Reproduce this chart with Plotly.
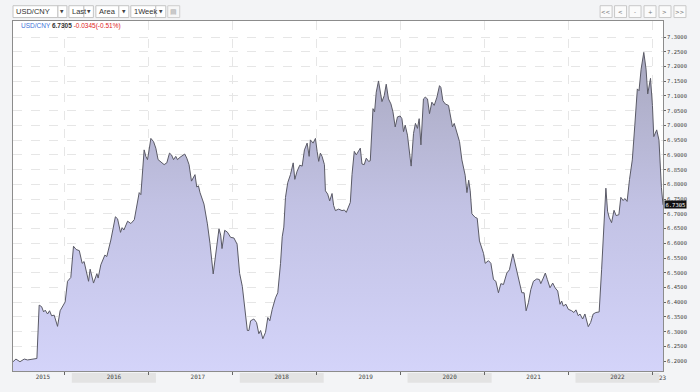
import pandas as pd
import plotly.graph_objects as go

# ---------------- data ----------------
t_year = [2015.382, 2015.417, 2015.465, 2015.516, 2015.556, 2015.667, 2015.694, 2015.723, 2015.747, 2015.766,
          2015.794, 2015.818, 2015.842, 2015.873, 2015.913, 2015.944, 2016.004, 2016.032, 2016.071, 2016.103,
          2016.134, 2016.172, 2016.206, 2016.229, 2016.282, 2016.301, 2016.341, 2016.381, 2016.396, 2016.428,
          2016.476, 2016.499, 2016.547, 2016.601, 2016.627, 2016.662, 2016.681, 2016.702, 2016.746, 2016.785,
          2016.826, 2016.856, 2016.884, 2016.904, 2016.943, 2016.963, 2016.983, 2017.002, 2017.023, 2017.055,
          2017.082, 2017.109, 2017.142, 2017.181, 2017.213, 2017.245, 2017.269, 2017.293, 2017.320, 2017.340,
          2017.371, 2017.400, 2017.427, 2017.451, 2017.478, 2017.507, 2017.530, 2017.549, 2017.570, 2017.590,
          2017.609, 2017.656, 2017.697, 2017.728, 2017.766, 2017.796, 2017.835, 2017.855, 2017.871, 2017.903,
          2017.935, 2017.974, 2018.013, 2018.051, 2018.081, 2018.113, 2018.140, 2018.173, 2018.192, 2018.212,
          2018.251, 2018.283, 2018.310, 2018.331, 2018.358, 2018.390, 2018.417, 2018.441, 2018.470, 2018.509,
          2018.536, 2018.569, 2018.589, 2018.608, 2018.628, 2018.655, 2018.687, 2018.720, 2018.739, 2018.767,
          2018.798, 2018.827, 2018.854, 2018.886, 2018.910, 2018.925, 2018.957, 2018.985, 2019.005, 2019.024,
          2019.044, 2019.064, 2019.092, 2019.104, 2019.131, 2019.155, 2019.183, 2019.202, 2019.223, 2019.262,
          2019.302, 2019.330, 2019.353, 2019.381, 2019.401, 2019.421, 2019.448, 2019.472, 2019.500, 2019.520,
          2019.540, 2019.567, 2019.591, 2019.618, 2019.639, 2019.671, 2019.690, 2019.710, 2019.737, 2019.758,
          2019.778, 2019.805, 2019.829, 2019.856, 2019.885, 2019.909, 2019.936, 2019.963, 2019.995, 2020.016,
          2020.035, 2020.055, 2020.082, 2020.114, 2020.126, 2020.154, 2020.177, 2020.201, 2020.221, 2020.242,
          2020.272, 2020.293, 2020.320, 2020.344, 2020.372, 2020.400, 2020.432, 2020.463, 2020.479, 2020.503,
          2020.531, 2020.570, 2020.598, 2020.617, 2020.638, 2020.670, 2020.701, 2020.729, 2020.768, 2020.789,
          2020.810, 2020.828, 2020.848, 2020.887, 2020.911, 2020.938, 2020.967, 2020.986, 2021.006, 2021.045,
          2021.074, 2021.105, 2021.133, 2021.164, 2021.193, 2021.224, 2021.264, 2021.295, 2021.336, 2021.363,
          2021.390, 2021.422, 2021.443, 2021.470, 2021.494, 2021.521, 2021.550, 2021.581, 2021.621, 2021.652,
          2021.669, 2021.699, 2021.723, 2021.747, 2021.779, 2021.811, 2021.839, 2021.871, 2021.898, 2021.918,
          2021.937, 2021.969, 2021.997, 2022.037, 2022.064, 2022.088, 2022.116, 2022.136, 2022.168, 2022.195,
          2022.235, 2022.263, 2022.294, 2022.326, 2022.365, 2022.394, 2022.421, 2022.445, 2022.465, 2022.484,
          2022.513, 2022.542, 2022.567, 2022.600, 2022.623, 2022.651, 2022.671, 2022.698, 2022.727, 2022.760,
          2022.790, 2022.820, 2022.840, 2022.865, 2022.897, 2022.924, 2022.944, 2022.977, 2023.000, 2023.016,
          2023.051, 2023.078, 2023.107, 2023.126]

usd_cny = [6.198, 6.207, 6.198, 6.207, 6.204, 6.209, 6.390, 6.385, 6.367, 6.373,
           6.360, 6.371, 6.354, 6.356, 6.318, 6.371, 6.401, 6.471, 6.484, 6.590,
           6.579, 6.575, 6.532, 6.538, 6.471, 6.512, 6.465, 6.497, 6.482, 6.527,
           6.560, 6.555, 6.611, 6.690, 6.683, 6.637, 6.653, 6.645, 6.675, 6.667,
           6.680, 6.732, 6.772, 6.765, 6.917, 6.895, 6.884, 6.917, 6.956, 6.945,
           6.923, 6.884, 6.876, 6.867, 6.873, 6.906, 6.900, 6.884, 6.895, 6.884,
           6.892, 6.898, 6.903, 6.889, 6.867, 6.811, 6.822, 6.833, 6.791, 6.795,
           6.772, 6.733, 6.666, 6.599, 6.496, 6.571, 6.649, 6.628, 6.582, 6.644,
           6.638, 6.620, 6.618, 6.597, 6.498, 6.454, 6.376, 6.304, 6.304, 6.337,
           6.343, 6.331, 6.293, 6.304, 6.276, 6.298, 6.348, 6.337, 6.376, 6.415,
           6.432, 6.532, 6.622, 6.655, 6.756, 6.806, 6.833, 6.873, 6.817, 6.845,
           6.865, 6.862, 6.917, 6.940, 6.895, 6.951, 6.940, 6.956, 6.912, 6.878,
           6.906, 6.895, 6.867, 6.778, 6.767, 6.744, 6.769, 6.728, 6.711, 6.716,
           6.711, 6.713, 6.705, 6.722, 6.739, 6.833, 6.912, 6.900, 6.912, 6.923,
           6.869, 6.867, 6.889, 6.878, 6.880, 7.057, 7.046, 7.113, 7.151, 7.118,
           7.081, 7.101, 7.140, 7.090, 7.073, 7.046, 6.995, 7.029, 7.032, 7.023,
           6.979, 7.001, 6.967, 6.889, 6.862, 6.973, 7.007, 6.990, 7.023, 6.934,
           7.090, 7.096, 7.090, 7.040, 7.079, 7.068, 7.096, 7.135, 7.129, 7.084,
           7.073, 7.068, 7.018, 6.995, 7.007, 6.973, 6.945, 6.883, 6.831, 6.772,
           6.814, 6.778, 6.700, 6.688, 6.685, 6.608, 6.577, 6.566, 6.532, 6.541,
           6.532, 6.477, 6.471, 6.432, 6.463, 6.460, 6.499, 6.510, 6.564, 6.532,
           6.493, 6.460, 6.432, 6.432, 6.371, 6.398, 6.443, 6.471, 6.479, 6.477,
           6.463, 6.482, 6.499, 6.477, 6.449, 6.465, 6.449, 6.438, 6.393, 6.404,
           6.387, 6.393, 6.376, 6.371, 6.365, 6.374, 6.354, 6.360, 6.343, 6.360,
           6.317, 6.331, 6.360, 6.365, 6.367, 6.510, 6.666, 6.787, 6.709, 6.688,
           6.670, 6.712, 6.694, 6.697, 6.756, 6.745, 6.752, 6.742, 6.817, 6.883,
           7.001, 7.124, 7.118, 7.191, 7.248, 7.191, 7.107, 7.160, 7.068, 6.962,
           6.985, 6.950, 6.789, 6.7305]

year_labels = ["2015", "2016", "2017", "2018", "2019", "2020", "2021", "2022"]
label_years = [2015.738, 2016.583, 2017.583, 2018.583, 2019.583, 2020.583, 2021.583, 2022.583]
year_bounds = [2016, 2017, 2018, 2019, 2020, 2021, 2022, 2023]
band_years = [2016, 2018, 2020, 2022]
y_ticks = [6.20, 6.25, 6.30, 6.35, 6.40, 6.45, 6.50, 6.55, 6.60, 6.65, 6.70, 6.75,
           6.80, 6.85, 6.90, 6.95, 7.00, 7.05, 7.10, 7.15, 7.20, 7.25, 7.30]
last_value = 6.7305
change_text = "-0.0345(-0.51%)"
symbol = "USD/CNY"

if len(t_year) != len(usd_cny):
    raise ValueError(f"length mismatch {len(t_year)} vs {len(usd_cny)}")


def to_date(t):
    y = int(t)
    s = pd.Timestamp(year=y, month=1, day=1)
    e = pd.Timestamp(year=y + 1, month=1, day=1)
    return s + (e - s) * (t - y)


dates = [to_date(t) for t in t_year]

W, H = 700, 392
ML, MR, MT, MB = 12, 37, 21, 16
PW, PH = W - ML - MR, H - MT - MB


def px(x):
    return (x - ML) / PW


def py(y):
    return (H - MB - y) / PH


fig = go.Figure()
fig.add_trace(go.Scatter(
    x=dates, y=usd_cny, mode="lines",
    line=dict(color="#5a5a66", width=1),
    fill="tozeroy",
    fillgradient=dict(type="vertical", start=6.17, stop=7.30,
                      colorscale=[[0, "rgb(212,212,250)"], [0.5, "rgb(194,194,228)"],
                                  [1, "rgb(166,166,188)"]]),
    hoverinfo="skip", showlegend=False))

shapes = []
annotations = []

# alternating year bands under the x axis
for yb in band_years:
    shapes.append(dict(type="rect", xref="x", yref="paper",
                       x0=to_date(yb + 0.083), x1=to_date(yb + 1.083),
                       y0=py(388), y1=py(378), fillcolor="#e3e3e3",
                       line=dict(width=0), layer="below"))

annotations.append(dict(x=px(669), y=py(383), xref="paper", yref="paper", text="23",
                        showarrow=False, xanchor="right", yanchor="middle",
                        font=dict(family="DejaVu Sans Mono", size=6, color="#444")))

# legend text inside plot
annotations.append(dict(
    x=px(18), y=py(26), xref="paper", yref="paper", xanchor="left", yanchor="middle",
    showarrow=False,
    text=(f"<span style='color:#3f73d9'>{symbol}</span> "
          f"<span style='color:#333'><b>{last_value:.4f}</b></span> "
          f"<span style='color:#e02424'>{change_text}</span>"),
    font=dict(family="Liberation Sans", size=6.5)))

# last value box on the right axis
annotations.append(dict(x=px(664), y=last_value, xref="paper", yref="y",
                        xanchor="left", yanchor="middle", showarrow=False,
                        text=f"{last_value:.4f}", bgcolor="#111", borderpad=0.5,
                        font=dict(family="DejaVu Sans Mono", size=5.5, color="white")))


# toolbar
def box(x0, x1, y0=5.5, y1=17.5, fill="white", line="#c4c4c4"):
    shapes.append(dict(type="rect", xref="paper", yref="paper",
                       x0=px(x0), x1=px(x1), y0=py(y1), y1=py(y0),
                       fillcolor=fill, line=dict(color=line, width=1)))


def txt(x, y, s, size=7.5, color="#333", anchor="left", family="Liberation Sans"):
    annotations.append(dict(x=px(x), y=py(y), xref="paper", yref="paper", text=s,
                            showarrow=False, xanchor=anchor, yanchor="middle",
                            font=dict(family=family, size=size, color=color)))


dropdowns = [("USD/CNY", 12, 57, 66), ("Last", 68, 83, 92.5), ("Area", 95, 118, 128), ("1Week", 130, 155, 165)]
for label, a, b, c in dropdowns:
    box(a, b)
    box(b, c)
    txt(a + 1.5, 11.5, label)
    txt((b + c) / 2, 11.5, "▼", size=4.5, color="#444", anchor="center", family="DejaVu Sans")
box(167, 179, line="#cfcfcf", fill="#f7f7f7")
txt(173, 11.5, "▤", size=7, color="#aaa", anchor="center", family="DejaVu Sans")

nav = [("<<", 600, 612), ("<", 614.5, 626.5), ("-", 629, 641), ("+", 644, 656), (">", 659, 671), (">>", 674, 686)]
for s, a, b in nav:
    box(a, b, 5.5, 17.5, fill="#fbfbfb", line="#c8c8c8")
    txt((a + b) / 2, 11.5, s, size=5.5, color="#777", anchor="center", family="DejaVu Sans")

fig.update_layout(
    width=W, height=H,
    margin=dict(l=ML, r=MR, t=MT, b=MB),
    paper_bgcolor="#f3f4f6", plot_bgcolor="white",
    shapes=shapes, annotations=annotations,
    showlegend=False,
    xaxis=dict(
        type="date", range=[dates[0], dates[-1]],
        tickmode="array", tickvals=[to_date(t) for t in label_years], ticktext=year_labels,
        ticks="", showgrid=False, zeroline=False,
        tickfont=dict(family="DejaVu Sans Mono", size=6, color="#444"),
        showline=True, linecolor="#8c8c8c", linewidth=1, mirror=True,
        minor=dict(tickmode="array", tickvals=[to_date(t) for t in year_bounds],
                   ticks="outside", ticklen=3, tickcolor="#666",
                   showgrid=True, gridcolor="#e6e6e6", griddash="dash", gridwidth=1),
    ),
    yaxis=dict(
        side="right", range=[6.1665, 7.3545],
        tickmode="array", tickvals=y_ticks, tickformat=".4f",
        ticks="outside", ticklen=2, tickcolor="#666",
        tickfont=dict(family="DejaVu Sans Mono", size=5.5, color="#444"),
        showgrid=True, gridcolor="#e6e6e6", griddash="dash", gridwidth=1,
        zeroline=False,
        showline=True, linecolor="#8c8c8c", linewidth=1, mirror=True,
    ),
)

fig.write_html("out.html",
               config={"displayModeBar": False, "staticPlot": True},
               post_script="document.body.style.margin='0';document.body.style.overflow='hidden';")
